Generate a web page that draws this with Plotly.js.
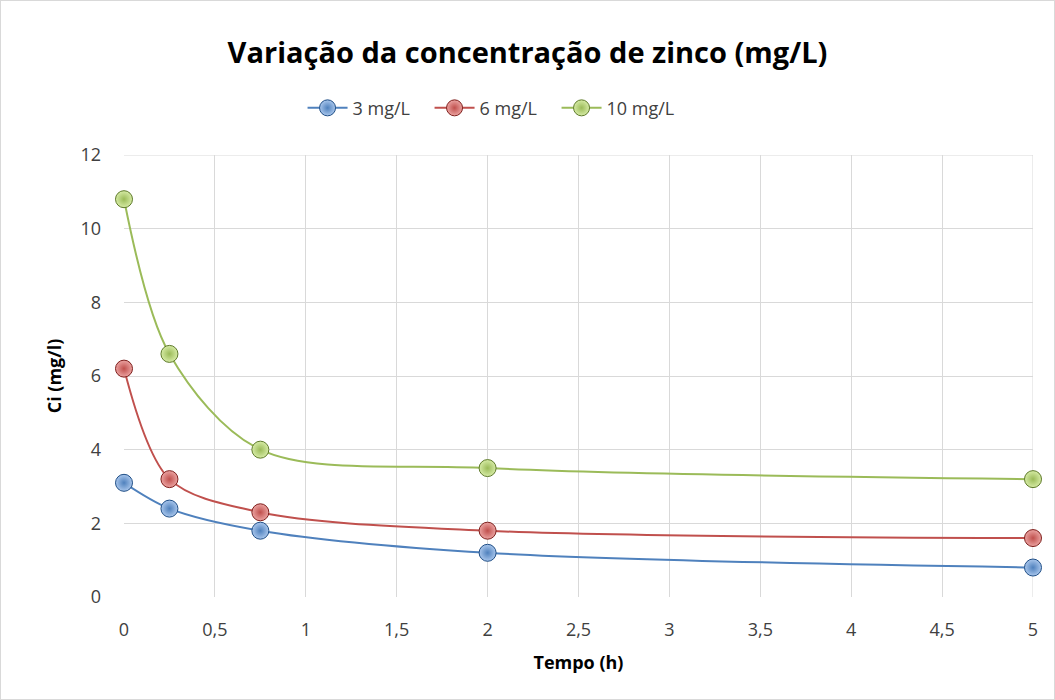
<!DOCTYPE html>
<html>
<head>
<meta charset="utf-8">
<script src="https://cdn.plot.ly/plotly-3.0.1.min.js"></script>
<style>
html,body{margin:0;padding:0;background:#fff;}
#wrap{position:absolute;left:0;top:0;width:1053px;height:698px;border:1px solid #d9d9d9;}
#chart{width:1053px;height:698px;}
</style>
</head>
<body>
<div id="wrap"><div id="chart"></div></div>
<script>
const tempo = [0, 0.25, 0.75, 2, 5];
const serie3 = [3.1, 2.4, 1.8, 1.2, 0.8];
const serie6 = [6.2, 3.2, 2.3, 1.8, 1.6];
const serie10 = [10.8, 6.6, 4.0, 3.5, 3.2];
const names = ['3 mg/L', '6 mg/L', '10 mg/L'];
const xTicks = [0, 0.5, 1, 1.5, 2, 2.5, 3, 3.5, 4, 4.5, 5];
const yTicks = [0, 2, 4, 6, 8, 10, 12];

const FONT = '"Open Sans", sans-serif';
const colors = ['#4F81BD', '#C0504D', '#9BBB59'];
const dark = ['#1F4E86', '#7E1F1C', '#5E7A2A'];
const light = ['#A9C6EC', '#EBA3A1', '#D6EBA5'];

function tr(y, i) {
  return {
    x: tempo, y: y, name: names[i], type: 'scatter', mode: 'lines+markers',
    line: {color: colors[i], width: 2, shape: 'spline', smoothing: 0.9},
    marker: {size: 17, color: light[i], line: {color: dark[i], width: 1},
             gradient: {type: 'radial', color: colors[i]}},
    cliponaxis: false
  };
}
const data = [tr(serie3, 0), tr(serie6, 1), tr(serie10, 2)];

const layout = {
  width: 1053, height: 698,
  separators: ',.',
  paper_bgcolor: '#fff', plot_bgcolor: '#fff',
  margin: {l: 123, r: 21, t: 154, b: 102, pad: 0},
  font: {family: FONT, color: '#404040', size: 18},
  title: {text: 'Variação da concentração de zinco (mg/L)', x: 0.5, xanchor: 'center',
          y: 0.926, yanchor: 'middle',
          font: {family: FONT, size: 29, color: '#000', weight: 'bold'}},
  showlegend: true,
  legend: {orientation: 'h', x: 0.406, xanchor: 'center', y: 1.106, yanchor: 'middle',
           font: {family: FONT, size: 18, color: '#404040'}, itemwidth: 40,
           entrywidth: 72, entrywidthmode: 'pixels', traceorder: 'normal'},
  xaxis: {
    range: [0, 5], tickvals: xTicks, ticktext: xTicks.map(v => String(v).replace('.', ',')),
    showgrid: true, gridcolor: '#d9d9d9', gridwidth: 1, zeroline: false,
    showline: false, ticks: '', ticklabelstandoff: 20,
    tickfont: {family: FONT, size: 18, color: '#404040'},
    title: {text: 'Tempo (h)', standoff: 16, font: {family: FONT, size: 18, color: '#000', weight: 'bold'}}
  },
  yaxis: {
    range: [0, 12], tickvals: yTicks,
    showgrid: true, gridcolor: '#d9d9d9', gridwidth: 1, zeroline: false,
    showline: false, ticks: '', ticklabelstandoff: 22,
    tickfont: {family: FONT, size: 18, color: '#404040'},
    title: {text: 'Ci (mg/l)', standoff: 14, font: {family: FONT, size: 18, color: '#000', weight: 'bold'}}
  },
  shapes: [
    {type: 'line', xref: 'x', yref: 'y', x0: 5, x1: 5, y0: 0, y1: 12, line: {color: '#d9d9d9', width: 1}, layer: 'below'},
    {type: 'line', xref: 'x', yref: 'y', x0: 0, x1: 5, y0: 12, y1: 12, line: {color: '#d9d9d9', width: 1}, layer: 'below'}
  ]
};
Plotly.newPlot('chart', data, layout, {displayModeBar: false, staticPlot: true});
</script>
</body>
</html>
